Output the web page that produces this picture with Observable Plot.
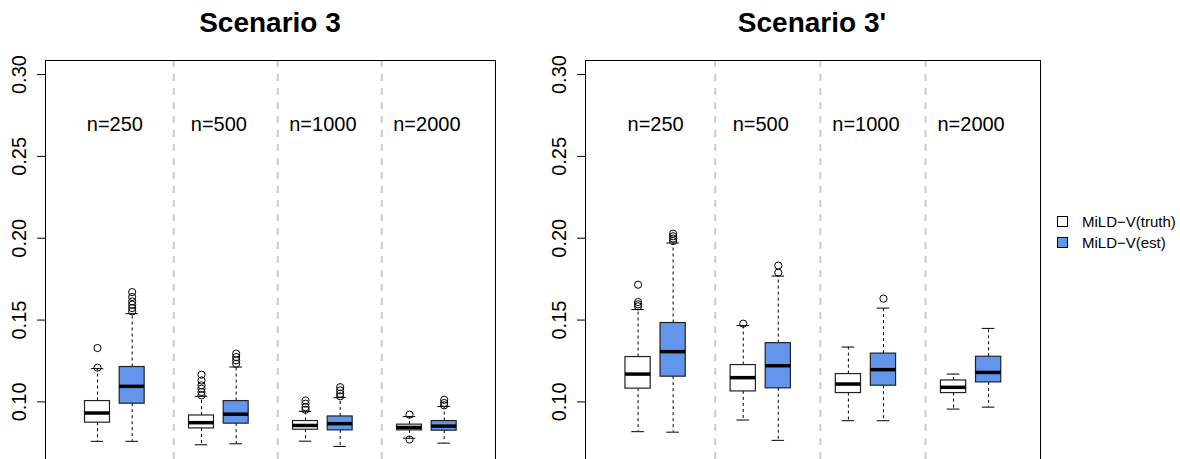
<!DOCTYPE html>
<html><head><meta charset="utf-8">
<script src="https://cdn.jsdelivr.net/npm/d3@7"></script>
<script src="https://cdn.jsdelivr.net/npm/@observablehq/plot@0.6"></script>
<style>
body{margin:0;background:#fff;}
#wrap{position:relative;width:1180px;height:459px;overflow:hidden;font-family:"Liberation Sans",Arial,sans-serif;color:#000;}
.title{position:absolute;top:8px;font-weight:bold;font-size:28px;line-height:30px;transform:translateX(-50%);white-space:nowrap;}
.panel{position:absolute;top:0;}
#legend{position:absolute;left:1057px;top:211px;font-size:15px;}
.item{display:flex;align-items:center;height:21px;}
.sw{width:9px;height:9px;border:1px solid #000;margin-right:14px;box-sizing:content-box;}
</style></head>
<body><div id="wrap">
<div class="title" style="left:270px">Scenario 3</div>
<div class="title" style="left:812px">Scenario 3'</div>
<div class="panel" id="p1" style="left:0px"></div>
<div class="panel" id="p2" style="left:540px"></div>
<div id="legend"></div>
</div>
<script>
const groups = ["n=250", "n=500", "n=1000", "n=2000"];
const methods = ["MiLD−V(truth)", "MiLD−V(est)"];
const methodColors = ["#ffffff", "#6495ED"];
const positions = [1, 2, 4, 5, 7, 8, 10, 11];
const groupCenters = [1.5, 4.5, 7.5, 10.5];
const separators = [3.2, 6.2, 9.2];
const yTicks = [0.10, 0.15, 0.20, 0.25, 0.30];

// Scenario 3 (order: n=250 truth, n=250 est, n=500 truth, ...)
const s3Lo  = [0.0759, 0.0759, 0.0738, 0.0744, 0.0760, 0.0728, 0.0778, 0.0748];
const s3Q1  = [0.0873, 0.0989, 0.0838, 0.0867, 0.0830, 0.0826, 0.0826, 0.0824];
const s3Med = [0.0932, 0.1095, 0.0873, 0.0925, 0.0856, 0.0867, 0.0844, 0.0852];
const s3Q3  = [0.1005, 0.1213, 0.0917, 0.1005, 0.0883, 0.0911, 0.0861, 0.0883];
const s3Hi  = [0.1203, 0.1539, 0.1034, 0.1213, 0.0942, 0.1026, 0.0910, 0.0972];
const s3Out = [
  [0.1329, 0.1209],
  [0.1671, 0.1641, 0.1614, 0.1594, 0.1573, 0.1553],
  [0.1166, 0.1131, 0.1101, 0.1081, 0.1060, 0.1040],
  [0.1295, 0.1274, 0.1254, 0.1233],
  [0.1009, 0.0989, 0.0968, 0.0952],
  [0.1090, 0.1070, 0.1050, 0.1034],
  [0.0922, 0.0770],
  [0.1013, 0.0993, 0.0979]
];

// Scenario 3'
const s3pLo  = [0.0818, 0.0815, 0.0889, 0.0765, 0.0885, 0.0885, 0.0956, 0.0968];
const s3pQ1  = [0.1081, 0.1154, 0.1064, 0.1083, 0.1054, 0.1099, 0.1054, 0.1119];
const s3pMed = [0.1170, 0.1307, 0.1148, 0.1221, 0.1109, 0.1197, 0.1089, 0.1180];
const s3pQ3  = [0.1274, 0.1482, 0.1225, 0.1359, 0.1170, 0.1295, 0.1131, 0.1276];
const s3pHi  = [0.1564, 0.1971, 0.1466, 0.1769, 0.1335, 0.1573, 0.1170, 0.1449];
const s3pOut = [
  [0.1716, 0.1610, 0.1596, 0.1584],
  [0.2028, 0.2012, 0.1998, 0.1983],
  [0.1478],
  [0.1833, 0.1790],
  [],
  [0.1631],
  [],
  []
];

const xDomain = [-0.5, 12.48];
const yDomain = [0.0648, 0.3086];
const labelY = 0.2696;

function panel(lo, q1, med, q3, hi, out, width, marginRight) {
  const rows = positions.map((p, i) => ({pos: p, method: methods[i % 2], lo: lo[i], q1: q1[i], med: med[i], q3: q3[i], hi: hi[i]}));
  const outs = out.flatMap((arr, i) => arr.map(v => ({pos: positions[i], v})));
  const hw = 0.36, cw = 0.18;
  return Plot.plot({
    width, height: 459,
    marginLeft: 45, marginRight, marginTop: 60, marginBottom: 0,
    x: {domain: xDomain, axis: null},
    y: {domain: yDomain},
    color: {domain: methods, range: methodColors},
    style: {fontFamily: "Liberation Sans, Arial, sans-serif", fontSize: "20px", color: "#000", background: "transparent", overflow: "visible"},
    marks: [
      Plot.ruleX(separators, {stroke: "#cccccc", strokeWidth: 2, strokeDasharray: "7,7"}),
      Plot.ruleX(rows, {x: "pos", y1: "q3", y2: "hi", stroke: "#000", strokeWidth: 1, strokeDasharray: "3,3"}),
      Plot.ruleX(rows, {x: "pos", y1: "q1", y2: "lo", stroke: "#000", strokeWidth: 1, strokeDasharray: "3,3"}),
      Plot.ruleY(rows, {y: "hi", x1: d => d.pos - cw, x2: d => d.pos + cw, stroke: "#000", strokeWidth: 1}),
      Plot.ruleY(rows, {y: "lo", x1: d => d.pos - cw, x2: d => d.pos + cw, stroke: "#000", strokeWidth: 1}),
      Plot.rect(rows, {x1: d => d.pos - hw, x2: d => d.pos + hw, y1: "q1", y2: "q3", fill: "method", stroke: "#222", strokeWidth: 1.2}),
      Plot.ruleY(rows, {y: "med", x1: d => d.pos - hw, x2: d => d.pos + hw, stroke: "#000", strokeWidth: 3.5}),
      Plot.dot(outs, {x: "pos", y: "v", r: 3.6, stroke: "#000", strokeWidth: 1, fill: "none"}),
      Plot.text(groups, {x: (d, i) => groupCenters[i], y: () => labelY, text: d => d, fontSize: 20, fill: "#000"}),
      Plot.axisY({ticks: yTicks, tickFormat: d => d.toFixed(2), tickRotate: -90, tickSize: 8, tickPadding: 12, fontSize: 20, anchor: "left"}),
      Plot.ruleX(xDomain, {stroke: "#000", strokeWidth: 1}),
      Plot.ruleY([yDomain[1]], {stroke: "#000", strokeWidth: 1})
    ]
  });
}

document.getElementById("p1").appendChild(panel(s3Lo, s3Q1, s3Med, s3Q3, s3Hi, s3Out, 540, 45));
document.getElementById("p2").appendChild(panel(s3pLo, s3pQ1, s3pMed, s3pQ3, s3pHi, s3pOut, 510, 10));

const legend = document.getElementById("legend");
methods.forEach((m, i) => {
  const item = document.createElement("div");
  item.className = "item";
  const sw = document.createElement("span");
  sw.className = "sw";
  sw.style.background = methodColors[i];
  item.appendChild(sw);
  const t = document.createElement("span");
  t.textContent = m;
  item.appendChild(t);
  legend.appendChild(item);
});
</script>
</body></html>
